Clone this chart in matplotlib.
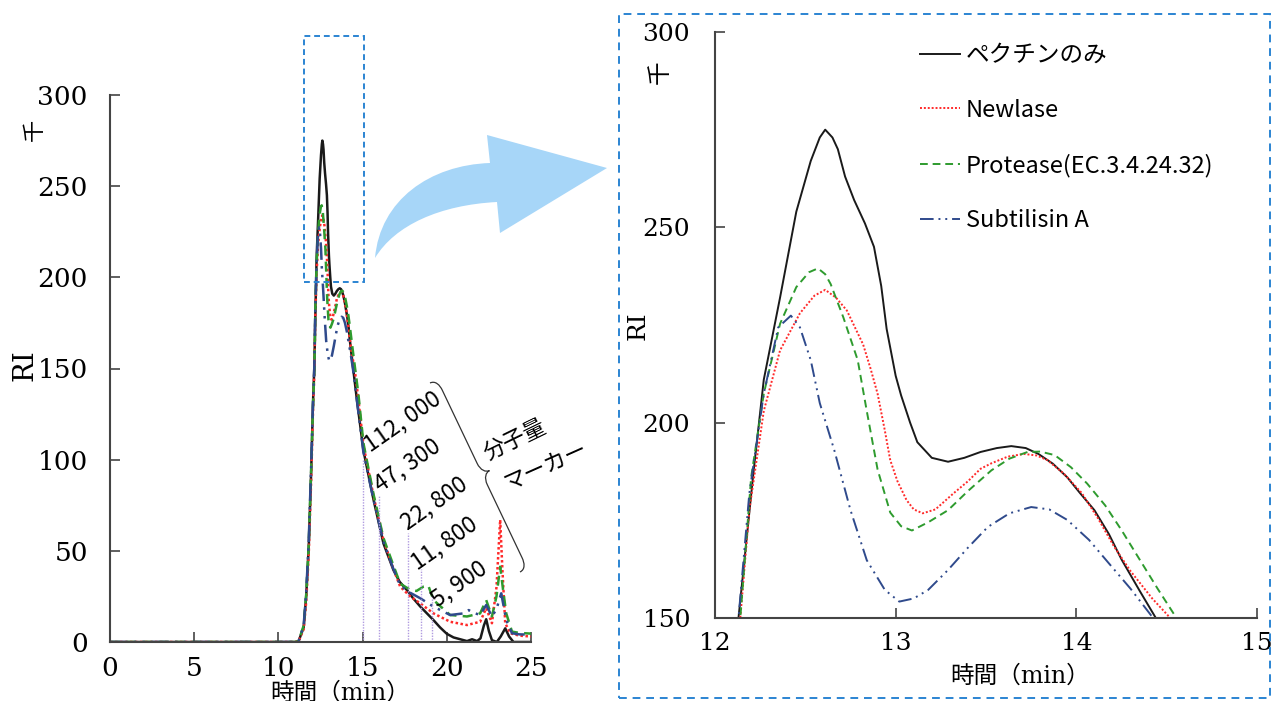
import numpy as np
import matplotlib
matplotlib.use('Agg')
import matplotlib.pyplot as plt
from matplotlib.path import Path
from matplotlib.patches import PathPatch, Rectangle
from matplotlib.font_manager import FontProperties

# ======== data ========#
t_black = [0, 5, 10, 11.0, 11.2, 11.5, 11.65, 11.8, 11.95, 12.05, 12.13, 12.21, 12.27, 12.36, 12.45,
           12.53, 12.58, 12.61, 12.65, 12.68, 12.72, 12.77, 12.83, 12.88, 12.92, 12.95, 13.0, 13.03,
           13.08, 13.12, 13.2, 13.29, 13.38, 13.47, 13.56, 13.64, 13.72, 13.79, 13.87, 13.95, 14.02,
           14.1, 14.18, 14.25, 14.35, 14.44, 14.66, 15.05, 15.65, 16.24, 16.83, 17.2, 17.63, 18.0,
           18.42, 19.21, 19.6, 20.0, 20.4, 20.8, 21.2, 21.5, 21.8, 22.0, 22.2, 22.34, 22.5, 22.68,
           22.97, 23.2, 23.47, 23.7, 23.96, 25]
v_black = [0, 0, 0, 0, 0.5, 8, 25, 52, 95, 130, 150, 186, 211, 232, 254,
           267, 273, 275, 273, 270, 263, 257, 251, 245, 235, 224, 212, 207,
           200, 195, 191, 190, 191, 192.5, 193.5, 194, 193.5, 192, 189.5, 186, 182,
           177.6, 171.5, 165, 157, 150, 133, 105, 78, 54, 39.5, 33, 28.5, 24,
           19.5, 12, 8, 4.5, 2.5, 1.5, 0.5, 1.5, 0.5, 2, 9, 12.5, 6, 1,
           0, 3, 7.5, 3, 0, 0]

t_red = [0, 5, 10, 11.0, 11.2, 11.5, 11.65, 11.8, 11.95, 12.05, 12.14, 12.19, 12.27, 12.36, 12.47,
         12.55, 12.61, 12.67, 12.73, 12.82, 12.86, 12.9, 12.94, 12.97, 13.01, 13.06, 13.1, 13.15,
         13.22, 13.32, 13.4, 13.47, 13.53, 13.62, 13.71, 13.78, 13.84, 13.93, 14.03, 14.12, 14.21,
         14.3, 14.42, 14.53, 14.7, 15.05, 15.65, 16.24, 16.83, 17.23, 17.83, 18.42, 19.21, 20.2,
         21.2, 21.98, 22.34, 22.68, 22.95, 23.17, 23.3, 23.47, 23.77, 24.3, 25]
v_red = [0, 0, 0, 0, 0.5, 7, 22, 48, 90, 125, 150, 177.6, 203, 218.5, 228,
         232.5, 234, 232, 228.7, 220, 214, 207.4, 198, 190.4, 185, 180.2, 177.8, 176.8,
         177.8, 181.9, 185, 188.2, 189.6, 191.3, 192, 191.6, 190.4, 187, 182, 175.5, 168.2,
         162, 155, 149.5, 137, 108, 80, 56, 40, 30.4, 25, 21.2, 15.7, 11.1,
         9.3, 11.1, 18.5, 10.3, 30, 67, 40, 10.3, 4.8, 3.5, 3]

t_green = [0, 5, 10, 11.0, 11.2, 11.5, 11.65, 11.8, 11.95, 12.05, 12.14, 12.2, 12.27, 12.36, 12.45,
           12.52, 12.57, 12.61, 12.64, 12.71, 12.79, 12.84, 12.9, 12.97, 13.03, 13.09, 13.18,
           13.29, 13.4, 13.53, 13.63, 13.73, 13.8, 13.88, 13.97, 14.06, 14.16, 14.25, 14.35,
           14.45, 14.55, 14.75, 15.05, 15.65, 16.24, 16.83, 17.23, 17.83, 18.2, 18.62, 18.9,
           19.21, 20.2, 21.2, 21.98, 22.34, 22.68, 22.95, 23.17, 23.35, 23.53, 23.87, 24.3, 25]
v_green = [0, 0, 0, 0, 0.5, 9, 26, 53, 96, 128, 150, 186, 207.4, 225.3, 234.7,
           238.5, 239.5, 238, 235.5, 227, 216, 203, 188, 177, 173.5, 172.4, 174.5,
           177.6, 182.5, 187.8, 190.8, 192.5, 192.6, 191.7, 188.6, 184.4, 178.8, 172.5, 165,
           157.5, 150.3, 136, 109, 81, 57, 42, 32, 28.6, 28, 30.4, 31,
           23, 14.8, 14, 15.7, 23, 14, 25, 41.3, 28, 15.7, 5.7, 5, 4.6]

t_blue = [0, 5, 10, 11.0, 11.2, 11.5, 11.65, 11.8, 11.95, 12.05, 12.13, 12.19, 12.27, 12.35, 12.42,
          12.47, 12.53, 12.58, 12.66, 12.75, 12.84, 12.94, 13.02, 13.1, 13.18, 13.29, 13.4,
          13.51, 13.63, 13.75, 13.85, 13.95, 14.07, 14.18, 14.3, 14.42, 14.6, 15.05, 15.65,
          16.24, 16.83, 17.23, 17.83, 18.42, 19.21, 20.2, 21.0, 21.3, 21.6, 21.98, 22.34, 22.68,
          22.95, 23.23, 23.53, 23.87, 24.3, 25]
v_blue = [0, 0, 0, 0, 0.5, 9, 27, 55, 98, 130, 150, 181.9, 207.4, 224.4, 227.4,
          224.4, 216, 205, 193, 177.6, 164.8, 157.2, 154.2, 155, 157.2, 162.3, 168,
          173.3, 176.8, 178.4, 177.8, 175.1, 170, 164, 157.5, 150.3, 137, 104, 78,
          55, 40, 31, 27, 24, 19.4, 14.8, 15.7, 17.5, 16, 14.8, 20.3, 14,
          18, 26.7, 12, 4.8, 4.2, 4]

names = ['ペクチンのみ', 'Newlase', 'Protease(EC.3.4.24.32)', 'Subtilisin A']

# molecular weight markers
mw_t = [15.0, 16.0, 17.67, 18.46, 19.15]
mw_h = [100, 80, 60, 40, 25]
mw_lab = ['112, 000', '47, 300', '22, 800', '11, 800', '5, 900']
mw_lab_t = [15.45, 16.05, 17.65, 18.25, 19.45]
mw_lab_v = [104, 82, 61, 39.5, 19]

W, H = 1272, 701
styles = [dict(color='#1a1a1a', ls='-'),
          dict(color='#ff2a2a', ls=(0, (1, 1))),
          dict(color='#2e9b2e', ls=(0, (4, 2.5))),
          dict(color='#2f4a8c', ls=(0, (7, 2.5, 1, 2.5, 1, 2.5)))]
series = [(t_black, v_black), (t_red, v_red), (t_green, v_green), (t_blue, v_blue)]

serif = 'DejaVu Serif'
jp = 'Noto Sans CJK JP'
mixed = [serif, jp]


def px(x, y):
	return (x / W, 1.0 - y / H)


fig = plt.figure(figsize=(W / 100, H / 100), dpi=100)

#========= left panel : whole chromatogram =========#
ax1 = fig.add_axes([110 / W, 1 - 642 / H, 421 / W, 547 / H])
for (t, v), st in zip(series, styles):
	ax1.plot(t, v, lw=1.8, **st)
for tm, hm in zip(mw_t, mw_h):
	ax1.plot([tm, tm], [0, hm], color='#b09be0', lw=1.0, ls=(0, (1, 1)))
for lab, tm, vm in zip(mw_lab, mw_lab_t, mw_lab_v):
	ax1.text(tm, vm, lab, rotation=35, rotation_mode='anchor', ha='left', va='baseline',
		fontsize=16.5, family=jp)
ax1.set_xlim(0, 25)
ax1.set_ylim(0, 300)
ax1.set_xticks(np.arange(0, 26, 5))
ax1.set_yticks(np.arange(0, 301, 50))
ax1.tick_params(direction='in', length=7, width=1.2, color='#444444', labelsize=19)
ax1.tick_params(axis='y', pad=16)
ax1.tick_params(axis='x', pad=10)
for lb in ax1.get_xticklabels() + ax1.get_yticklabels():
	lb.set_family(serif)
for s in ['top', 'right']:
	ax1.spines[s].set_visible(False)
for s in ['left', 'bottom']:
	ax1.spines[s].set_color('#444444')
	ax1.spines[s].set_linewidth(1.5)

#========= right panel : zoom on the peak =========#
ax2 = fig.add_axes([715 / W, 1 - 618 / H, 542 / W, 586 / H])
for (t, v), st, nm in zip(series, styles, names):
	ax2.plot(t, v, lw=1.4, label=nm, **st)
ax2.set_xlim(12, 15)
ax2.set_ylim(150, 300)
ax2.set_xticks([12, 13, 14, 15])
ax2.set_yticks([150, 200, 250, 300])
ax2.tick_params(direction='in', length=7, width=1.2, color='#444444', labelsize=18)
ax2.tick_params(axis='y', pad=18)
ax2.tick_params(axis='x', pad=10)
for lb in ax2.get_xticklabels() + ax2.get_yticklabels():
	lb.set_family(serif)
for s in ['top', 'right']:
	ax2.spines[s].set_visible(False)
for s in ['left', 'bottom']:
	ax2.spines[s].set_color('#444444')
	ax2.spines[s].set_linewidth(1.5)
ax2.legend(loc='upper left', bbox_to_anchor=px(908, 32), bbox_transform=fig.transFigure,
	frameon=False, handlelength=1.7, handletextpad=0.25, labelspacing=1.35, borderpad=0,
	prop=FontProperties(family=jp, size=17))

#========= axis labels =========#
fig.text(*px(25, 365), 'RI', rotation=90, ha='center', va='center', fontsize=20, family=serif)
fig.text(*px(34, 130), '千', rotation=90, ha='center', va='center', fontsize=16, family=jp)
fig.text(*px(340, 693), '時間（min）', ha='center', va='center', fontsize=17, family=mixed)
fig.text(*px(638, 326), 'RI', rotation=90, ha='center', va='center', fontsize=18, family=serif)
fig.text(*px(660, 72), '千', rotation=90, ha='center', va='center', fontsize=17, family=jp)
fig.text(*px(1020, 676), '時間（min）', ha='center', va='center', fontsize=17, family=mixed)

# marker annotation
fig.text(*px(515, 440), '分子量', rotation=26, ha='center', va='center', fontsize=16, family=jp)
fig.text(*px(546, 467), 'マーカー', rotation=24, ha='center', va='center', fontsize=16, family=jp)

# curly brace
top = np.array([430.0, 383.0])
a = np.array([90.0, 189.0]); L = np.hypot(*a); a = a / L
n = np.array([a[1], -a[0]])
h = L / 2
uw = [(0, 0), (0, 6), (6, 8), (12, 8), (h - 12, 8), (h - 4, 8), (h, 12), (h, 16),
      (h, 12), (h + 4, 8), (h + 12, 8), (L - 12, 8), (L - 6, 8), (L, 6), (L, 0)]
codes = [Path.MOVETO, Path.CURVE4, Path.CURVE4, Path.CURVE4, Path.LINETO, Path.CURVE4, Path.CURVE4,
         Path.CURVE4, Path.CURVE4, Path.CURVE4, Path.CURVE4, Path.LINETO, Path.CURVE4, Path.CURVE4,
         Path.CURVE4]
verts = [px(*(top + u * a + w * n)) for u, w in uw]
fig.add_artist(PathPatch(Path(verts, codes), transform=fig.transFigure, fc='none',
	ec='#333333', lw=0.9))

# curved arrow
arr = [(375, 258), (380, 200), (430, 165), (490, 163), (487, 135), (607, 168), (500, 233),
       (497, 202), (440, 205), (395, 225), (375, 258), (375, 258)]
acodes = [Path.MOVETO, Path.CURVE4, Path.CURVE4, Path.CURVE4, Path.LINETO, Path.LINETO, Path.LINETO,
          Path.LINETO, Path.CURVE4, Path.CURVE4, Path.CURVE4, Path.CLOSEPOLY]
fig.add_artist(PathPatch(Path([px(*p) for p in arr], acodes), transform=fig.transFigure,
	fc='#a7d6f8', ec='none'))

# dashed zoom boxes
fig.add_artist(Rectangle(px(304, 282), 60 / W, 246 / H, transform=fig.transFigure, fill=False,
	ec='#2b84d2', lw=1.4, ls=(0, (3, 2))))
fig.add_artist(Rectangle(px(619, 698), 651 / W, 684 / H, transform=fig.transFigure, fill=False,
	ec='#2b84d2', lw=1.4, ls=(0, (4, 3))))

fig.savefig('out.png', dpi=100)
